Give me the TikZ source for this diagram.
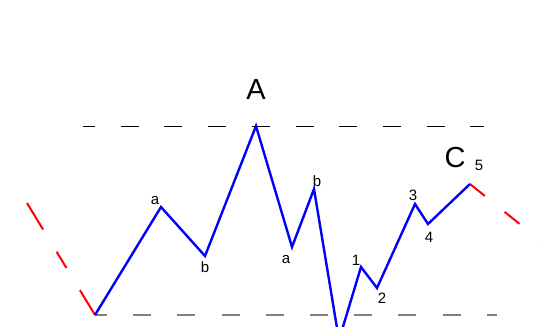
\documentclass[tikz,border=0pt]{standalone}
\usepackage{fontspec}
\setmainfont{Liberation Sans}
\usetikzlibrary{positioning}

\begin{document}
\begin{tikzpicture}[
  x=1pt, y=-1pt,
  wave/.style={draw=blue, line width=2.4pt, line join=miter},
  trend/.style={draw=red, line width=2pt},
  level/.style={draw=black, line width=0.9pt, dash pattern=on 18pt off 25.7pt, dash phase=6pt},
  base/.style={draw=gray, line width=1.8pt, dash pattern=on 18pt off 26.2pt, dash phase=6pt},
  lbl/.style={font=\fontsize{15}{15}\selectfont, inner sep=0pt},
  big/.style={font=\fontsize{29}{29}\selectfont, inner sep=0pt},
]
  \useasboundingbox (0,0) rectangle (539,327);
  \clip (0,0) rectangle (539,327);

  % wave points
  \coordinate (s0) at (95,315);
  \coordinate (w1) at (161,207);
  \coordinate (w2) at (205,256);
  \coordinate (wA) at (256,126);
  \coordinate (w3) at (292,247);
  \coordinate (w4) at (314,189);
  \coordinate (wlow) at (339,340);
  \coordinate (i1) at (361,267);
  \coordinate (i2) at (377,288);
  \coordinate (i3) at (415,204);
  \coordinate (i4) at (428,224);
  \coordinate (i5) at (470,184);

  % levels
  \coordinate (topL) at (83,126);
  \coordinate (topR) at (484,126);
  \coordinate (botR) at (497,315);
  \draw[level] (topL) -- (topR);
  \draw[base] (s0) -- (botR);

  % red trend ends
  \coordinate (redL) at (27,203);
  \coordinate (redR) at (560,256.5);
  \draw[trend, dash pattern=on 31pt off 26pt on 19pt off 26pt] (redL) -- (s0);
  \draw[trend, dash pattern=on 19pt off 25.5pt] (i5) -- (redR);

  % the wave
  \draw[wave] (s0) -- (w1) -- (w2) -- (wA) -- (w3) -- (w4) -- (wlow)
    -- (i1) -- (i2) -- (i3) -- (i4) -- (i5);

  % labels
  \node[big] (labA) at (256,90) {A};
  \node[big] (labC) at (455,158) {C};
  \node[lbl] (lab5) at (479,165) {5};
  \node[lbl] (la1) at (155,201) {a};
  \node[lbl] (lb1) at (205,267) {b};
  \node[lbl] (la2) at (286,260) {a};
  \node[lbl] (lb2) at (317,181) {b};
  \node[lbl] (l1) at (356,260) {1};
  \node[lbl] (l2) at (382,298) {2};
  \node[lbl] (l3) at (413,195) {3};
  \node[lbl] (l4) at (429,237) {4};
\end{tikzpicture}
\end{document}
